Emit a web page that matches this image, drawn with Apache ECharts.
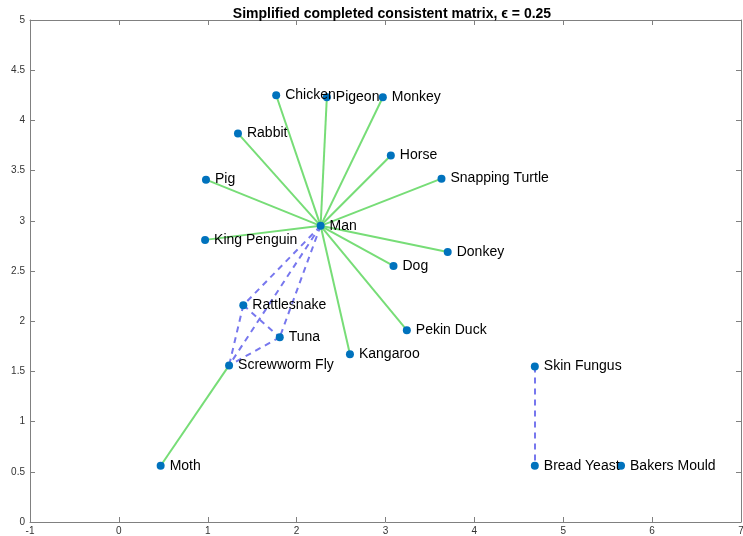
<!DOCTYPE html>
<html><head><meta charset="utf-8">
<script src="https://cdn.jsdelivr.net/npm/echarts@6/dist/echarts.min.js"></script>
<style>html,body{margin:0;padding:0;background:#fff}#c{width:743px;height:536px}</style>
</head><body><div id="c"></div>
<script>
const names = ["Man","Chicken","Pigeon","Monkey","Rabbit","Horse","Pig","Snapping Turtle","King Penguin","Donkey","Dog","Rattlesnake","Tuna","Pekin Duck","Kangaroo","Screwworm Fly","Moth","Skin Fungus","Bread Yeast","Bakers Mould"];
const xs = [2.27,1.77,2.34,2.97,1.34,3.06,0.98,3.63,0.97,3.70,3.09,1.40,1.81,3.24,2.60,1.24,0.47,4.68,4.68,5.65];
const ys = [2.95,4.25,4.23,4.23,3.87,3.65,3.41,3.42,2.81,2.69,2.55,2.16,1.84,1.91,1.67,1.56,0.56,1.55,0.56,0.56];
const solidEdges = [["Man","Chicken"],["Man","Pigeon"],["Man","Monkey"],["Man","Rabbit"],["Man","Horse"],["Man","Pig"],["Man","Snapping Turtle"],["Man","King Penguin"],["Man","Donkey"],["Man","Dog"],["Man","Pekin Duck"],["Man","Kangaroo"],["Screwworm Fly","Moth"]];
const dashedEdges = [["Man","Rattlesnake"],["Man","Tuna"],["Man","Screwworm Fly"],["Rattlesnake","Tuna"],["Rattlesnake","Screwworm Fly"],["Tuna","Screwworm Fly"],["Skin Fungus","Bread Yeast"]];
const xTicks = [-1,0,1,2,3,4,5,6,7];
const yTicks = [0,0.5,1,1.5,2,2.5,3,3.5,4,4.5,5];

const pt = n => { const i = names.indexOf(n); return [xs[i], ys[i]]; };
const edgeData = e => e.map(([a,b]) => ({coords:[pt(a), pt(b)]}));
const axCol = '#808080';
const font = 'Helvetica, "Liberation Sans", Arial, sans-serif';
const baseAxis = {
  axisLine:{show:true,onZero:false,lineStyle:{color:axCol,width:1}},
  axisTick:{show:true,inside:true,length:5,lineStyle:{color:axCol}},
  splitLine:{show:false}
};
const chart = echarts.init(document.getElementById('c'));
chart.setOption({
  animation:false,
  title:{text:'Simplified completed consistent matrix, \u03f5 = 0.25',left:387,top:2,textAlign:'center',
    textStyle:{fontSize:14,fontWeight:'bold',color:'#000',fontFamily:font}},
  grid:{left:30,right:2,top:20,bottom:14,outerBoundsMode:'none',containLabel:false},
  xAxis:[
    Object.assign({type:'value',min:xTicks[0],max:xTicks[xTicks.length-1],interval:1,position:'bottom',
      axisLabel:{fontSize:10,color:'#333',margin:4,fontFamily:font,showMaxLabel:true,showMinLabel:true}},baseAxis),
    Object.assign({type:'value',min:xTicks[0],max:xTicks[xTicks.length-1],interval:1,position:'top',axisLabel:{show:false}},baseAxis)
  ],
  yAxis:[
    Object.assign({type:'value',min:yTicks[0],max:yTicks[yTicks.length-1],interval:0.5,position:'left',
      axisLabel:{fontSize:10,color:'#333',margin:5,fontFamily:font}},baseAxis),
    Object.assign({type:'value',min:yTicks[0],max:yTicks[yTicks.length-1],interval:0.5,position:'right',axisLabel:{show:false}},baseAxis)
  ],
  series:[
    {type:'lines',coordinateSystem:'cartesian2d',xAxisIndex:0,yAxisIndex:0,z:1,
      lineStyle:{color:'#77dd77',width:2,opacity:1},data:edgeData(solidEdges)},
    {type:'lines',coordinateSystem:'cartesian2d',xAxisIndex:0,yAxisIndex:0,z:1,
      lineStyle:{color:'#7777ee',width:2,type:[6,5],opacity:1},data:edgeData(dashedEdges)},
    {type:'scatter',xAxisIndex:0,yAxisIndex:0,z:3,symbolSize:8,
      itemStyle:{color:'#0072bd',opacity:1},
      label:{show:true,position:'right',distance:5,fontSize:14,color:'#000',fontFamily:font,
        formatter:p=>p.data.name},
      data:names.map((n,i)=>({name:n,value:[xs[i],ys[i]]}))}
  ]
});
</script></body></html>
